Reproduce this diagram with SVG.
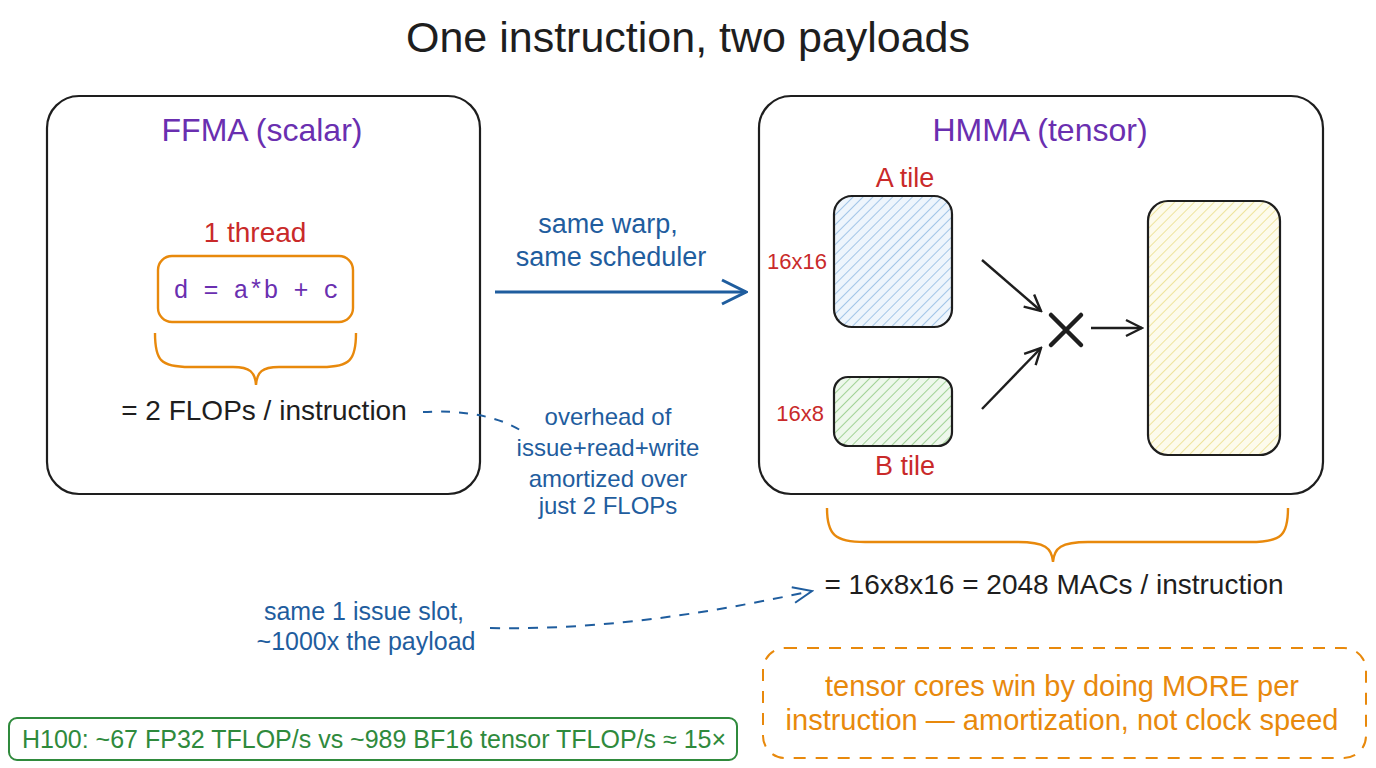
<svg xmlns="http://www.w3.org/2000/svg" width="1376" height="768" viewBox="0 0 1376 768">
<defs>
<style>
text{font-family:"Liberation Sans","DejaVu Sans",sans-serif;}
.t{font-size:43px;fill:#1e1e1e;text-anchor:middle;}
.h{font-size:32px;fill:#6a2fb0;text-anchor:middle;}
.red{font-size:27px;fill:#c92a2a;}
.blue{font-size:24px;fill:#1f5d9e;text-anchor:middle;}
.blk{font-size:28px;fill:#1e1e1e;}
.box{fill:#fff;stroke:#1e1e1e;stroke-width:2.2;}
.tile{stroke:#1e1e1e;stroke-width:2.2;}
.ar{fill:none;stroke:#1e1e1e;stroke-width:2.4;}
.brace{fill:none;stroke:#e8890c;stroke-width:2.4;}
</style>
<pattern id="hb" patternUnits="userSpaceOnUse" width="7" height="7" patternTransform="rotate(45)"><rect width="7" height="7" fill="#eef5fc"/><line x1="0" y1="0" x2="0" y2="7" stroke="#94bde4" stroke-width="1.7"/></pattern>
<pattern id="hg" patternUnits="userSpaceOnUse" width="7" height="7" patternTransform="rotate(45)"><rect width="7" height="7" fill="#eef8ec"/><line x1="0" y1="0" x2="0" y2="7" stroke="#93cb85" stroke-width="1.7"/></pattern>
<pattern id="hy" patternUnits="userSpaceOnUse" width="7" height="7" patternTransform="rotate(45)"><rect width="7" height="7" fill="#fdfbec"/><line x1="0" y1="0" x2="0" y2="7" stroke="#ecdf8e" stroke-width="1.7"/></pattern>
<marker id="mk" viewBox="0 0 20 20" refX="18" refY="10" markerWidth="20" markerHeight="20" markerUnits="userSpaceOnUse" orient="auto"><path d="M2,2 L18,10 L2,18" fill="none" stroke="#1e1e1e" stroke-width="2.4"/></marker>
<marker id="mkb" viewBox="0 0 30 30" refX="28" refY="15" markerWidth="30" markerHeight="30" markerUnits="userSpaceOnUse" orient="auto"><path d="M4,3 L28,15 L4,27" fill="none" stroke="#1f5d9e" stroke-width="3"/></marker>
<marker id="mkd" viewBox="0 0 24 24" refX="22" refY="12" markerWidth="24" markerHeight="24" markerUnits="userSpaceOnUse" orient="auto"><path d="M3,4 L22,12 L3,20" fill="none" stroke="#1f5d9e" stroke-width="2"/></marker>
</defs>
<rect width="1376" height="768" fill="#ffffff"/>
<text class="t" x="688" y="52">One instruction, two payloads</text>

<g id="ffma">
<rect class="box" x="47" y="96" width="433" height="398" rx="32"/>
<text class="h" x="262" y="141">FFMA (scalar)</text>
</g>

<g id="ffma-op">
<text class="red" x="255" y="242" text-anchor="middle" style="font-size:28px">1 thread</text>
<rect x="158" y="256" width="195" height="66" rx="14" fill="none" stroke="#e8890c" stroke-width="2.4"/>
<text x="256" y="298" text-anchor="middle" style="font-family:'Liberation Mono','DejaVu Sans Mono',monospace;font-size:25px;fill:#6a2fb0">d = a*b + c</text>
<path class="brace" d="M155,333 C155,360 160,367 190,367 L233,367 C250,367 255,372 256,385 C257,372 262,367 279,367 L322,367 C350,367 356,360 356,333"/>
<text class="blk" x="264" y="420" text-anchor="middle">= 2 FLOPs / instruction</text>
</g>

<g id="hmma">
<rect class="box" x="759" y="96" width="564" height="398" rx="32"/>
<text class="h" x="1040" y="141">HMMA (tensor)</text>
</g>

<g id="a-tile">
<text class="red" x="905" y="187" text-anchor="middle">A tile</text>
<rect class="tile" x="834" y="196" width="118" height="131" rx="18" fill="url(#hb)"/>
<text class="red" x="827" y="269" text-anchor="end" style="font-size:22px">16x16</text>
</g>

<g id="b-tile">
<rect class="tile" x="834" y="377" width="118" height="69" rx="14" fill="url(#hg)"/>
<text class="red" x="824" y="421" text-anchor="end" style="font-size:22px">16x8</text>
<text class="red" x="905" y="475" text-anchor="middle">B tile</text>
</g>

<g id="mul">
<path d="M1051,315 L1081,345 M1051,345 L1081,315" stroke="#1e1e1e" stroke-width="4.5" stroke-linecap="round"/>
</g>

<g id="c-tile">
<rect class="tile" x="1148" y="201" width="132" height="254" rx="20" fill="url(#hy)"/>
</g>

<g id="hmma-result">
<path class="brace" d="M827,508 C827,535 835,542 865,542 L1018,542 C1045,542 1052,548 1053,562 C1054,548 1061,542 1088,542 L1250,542 C1282,542 1288,535 1288,508"/>
<text class="blk" x="1054" y="594" text-anchor="middle">= 16x8x16 = 2048 MACs / instruction</text>
</g>

<g id="warp-label">
<text class="blue" x="608" y="233" style="font-size:27px">same warp,</text>
<text class="blue" x="611" y="266" style="font-size:27px">same scheduler</text>
</g>

<g id="overhead-note">
<text class="blue" x="608" y="425">overhead of</text>
<text class="blue" x="608" y="456">issue+read+write</text>
<text class="blue" x="608" y="487">amortized over</text>
<text class="blue" x="608" y="514">just 2 FLOPs</text>
</g>

<g id="slot-note">
<text class="blue" x="364" y="620" style="font-size:25px">same 1 issue slot,</text>
<text class="blue" x="366" y="650" style="font-size:25px">~1000x the payload</text>
</g>

<g id="h100">
<rect x="9" y="718" width="728" height="42" rx="8" fill="#fff" stroke="#2f8a3c" stroke-width="2"/>
<text x="374" y="748" text-anchor="middle" style="font-size:25px;fill:#2f8a3c">H100: ~67 FP32 TFLOP/s vs ~989 BF16 tensor TFLOP/s ≈ 15×</text>
</g>

<g id="takeaway">
<rect x="763" y="648" width="603" height="110" rx="22" fill="none" stroke="#e8890c" stroke-width="2" stroke-dasharray="12 10"/>
<text x="1062" y="696" text-anchor="middle" style="font-size:29px;fill:#e8890c">tensor cores win by doing MORE per</text>
<text x="1062" y="730" text-anchor="middle" style="font-size:29px;fill:#e8890c">instruction — amortization, not clock speed</text>
</g>

<g id="connectors">
<line x1="495" y1="292" x2="746" y2="292" stroke="#1f5d9e" stroke-width="3.2" marker-end="url(#mkb)"/>
<line class="ar" x1="982" y1="260" x2="1041" y2="311" marker-end="url(#mk)"/>
<line class="ar" x1="982" y1="409" x2="1041" y2="348" marker-end="url(#mk)"/>
<line class="ar" x1="1091" y1="328" x2="1142" y2="328" marker-end="url(#mk)"/>
<path d="M423,412 C460,410 495,415 520,430" fill="none" stroke="#1f5d9e" stroke-width="2" stroke-dasharray="9 9"/>
<path d="M490,628 C600,630 700,615 812,591" fill="none" stroke="#1f5d9e" stroke-width="2" stroke-dasharray="10 9" marker-end="url(#mkd)"/>
</g>
</svg>
